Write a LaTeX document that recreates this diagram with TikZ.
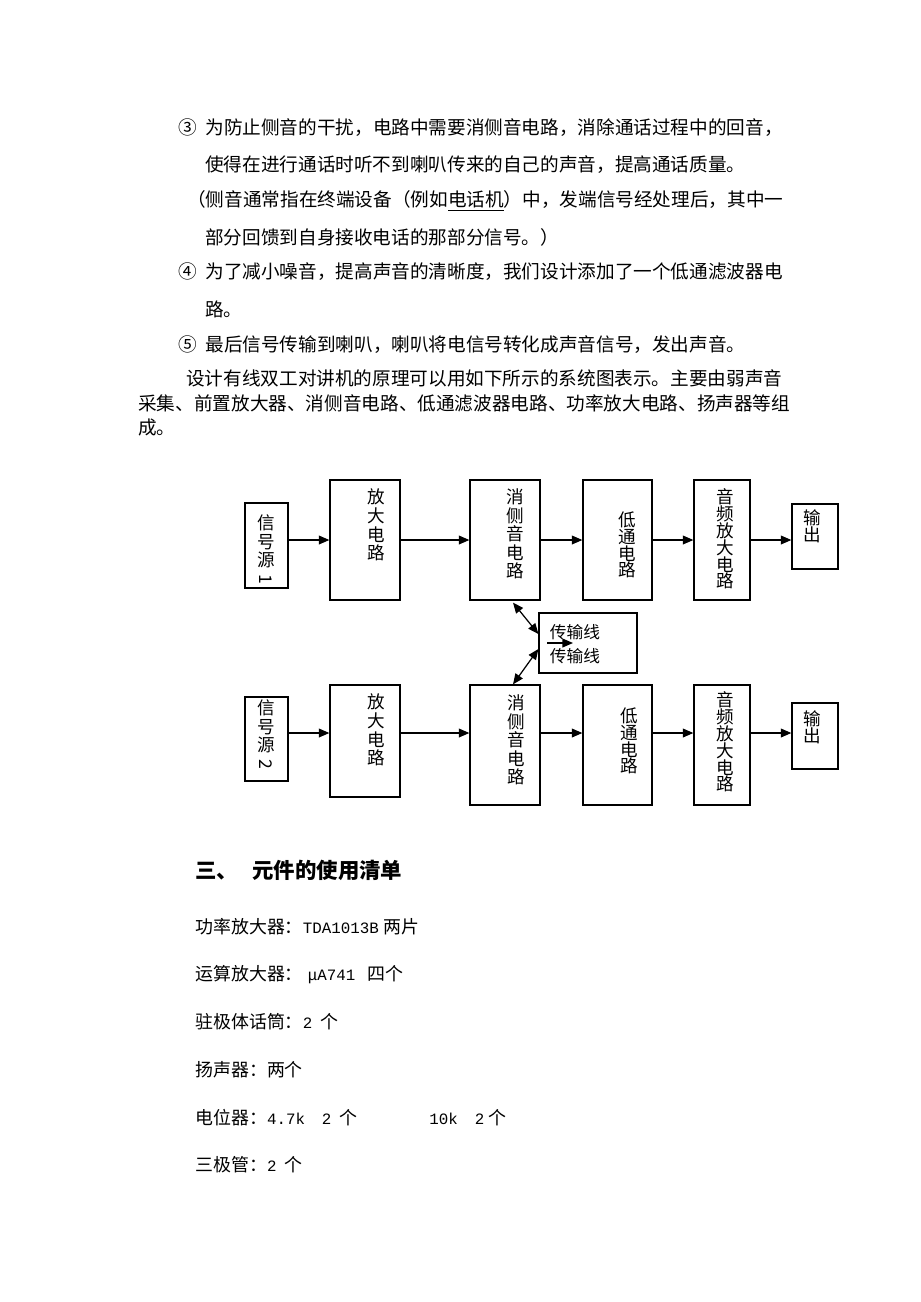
\documentclass[tikz,border=0pt]{standalone}
\usepackage{fontspec}
\usepackage{graphicx}
\setmainfont{Noto Sans CJK SC}
\newfontfamily\latfont{Liberation Mono}
\usetikzlibrary{arrows.meta,positioning,calc}
\newlength\pxl
\setlength\pxl{0.02cm}
\newcommand\latn[1]{{\latfont\fontsize{9}{10}\selectfont #1}}

\begin{document}
\begin{tikzpicture}[x=0.02cm, y=-0.02cm,
  box/.style={draw, line width=0.7pt, inner sep=0pt},
  vtext/.style={align=center, inner sep=0pt, font=\fontsize{10}{10.6}\selectfont},
  vtight/.style={align=center, inner sep=0pt, font=\fontsize{10}{9.6}\selectfont},
  para/.style={anchor=west, inner sep=0pt, font=\fontsize{10.6}{12}\selectfont},
  item/.style={anchor=west, inner sep=0pt, font=\fontsize{10.2}{12}\selectfont},
  arr/.style={-{Triangle[length=6pt,width=5pt]}, line width=0.7pt},
  dbl/.style={{Triangle[length=6pt,width=5pt]}-{Triangle[length=6pt,width=5pt]}, line width=0.7pt}]
  \fill[white] (0,0) rectangle (920,1302);

  % text above the diagram
  \node[para] (l1) at (178,128) {\makebox[15.4pt][l]{③}为防止侧音的干扰，电路中需要消侧音电路，消除通话过程中的回音，};
  \node[para] (l2) at (205,165) {使得在进行通话时听不到喇叭传来的自己的声音，提高通话质量。};
  \node[para] (l3) at (187,201) {（侧音通常指在终端设备（例如\underline{电话机}）中，发端信号经处理后，其中一};
  \node[para] (l4) at (205,237) {部分回馈到自身接收电话的那部分信号。）};
  \node[para] (l5) at (178,272) {\makebox[15.4pt][l]{④}为了减小噪音，提高声音的清晰度，我们设计添加了一个低通滤波器电};
  \node[para] (l6) at (205,309) {路。};
  \node[para] (l7) at (178,345) {\makebox[15.4pt][l]{⑤}最后信号传输到喇叭，喇叭将电信号转化成声音信号，发出声音。};
  \node[para] (l8) at (186,378) {设计有线双工对讲机的原理可以用如下所示的系统图表示。主要由弱声音};
  \node[para] (l9) at (138,403) {采集、前置放大器、消侧音电路、低通滤波器电路、功率放大电路、扬声器等组};
  \node[para] (l10) at (138,427) {成。};

  % upper channel
  \node[box, minimum width=0.86cm, minimum height=1.70cm] (src1) at (266.5,545.5) {};
  \node[box, minimum width=1.40cm, minimum height=2.40cm] (amp1) at (365,540) {};
  \node[box, minimum width=1.40cm, minimum height=2.40cm] (sto1) at (505,540) {};
  \node[box, minimum width=1.38cm, minimum height=2.40cm] (lpf1) at (617.5,540) {};
  \node[box, minimum width=1.12cm, minimum height=2.40cm] (pa1) at (722,540) {};
  \node[box, minimum width=0.92cm, minimum height=1.30cm] (out1) at (815,536.5) {};
  \node[vtext] (tsrc1) at (266,550) {信\\号\\源\\\rotatebox[origin=c]{-90}{1}};
  \node[vtext] (tamp1) at (376,525) {放\\大\\电\\路};
  \node[vtext] (tsto1) at (515,534) {消\\侧\\音\\电\\路};
  \node[vtight] (tlpf1) at (627,545) {低\\通\\电\\路};
  \node[vtight] (tpa1) at (725,539) {音\\频\\放\\大\\电\\路};
  \node[vtight] (tout1) at (812,526) {输\\出};

  % transmission line
  \node[box, minimum width=1.96cm, minimum height=1.20cm] (line) at (588,643) {};
  \node[align=left, inner sep=0pt, font=\fontsize{9.5}{13.6}\selectfont] (tline) at (575,644) {传输线\\传输线};
  \coordinate (sa) at (547,643);
  \draw[arr] (sa) -- ++(26,0);

  % lower channel
  \node[box, minimum width=0.86cm, minimum height=1.68cm] (src2) at (266.5,739) {};
  \node[box, minimum width=1.40cm, minimum height=2.24cm] (amp2) at (365,741) {};
  \node[box, minimum width=1.40cm, minimum height=2.40cm] (sto2) at (505,745) {};
  \node[box, minimum width=1.38cm, minimum height=2.40cm] (lpf2) at (617.5,745) {};
  \node[box, minimum width=1.12cm, minimum height=2.40cm] (pa2) at (722,745) {};
  \node[box, minimum width=0.92cm, minimum height=1.32cm] (out2) at (815,736) {};
  \node[vtext] (tsrc2) at (266,735) {信\\号\\源\\\rotatebox[origin=c]{-90}{2}};
  \node[vtext] (tamp2) at (376,730) {放\\大\\电\\路};
  \node[vtext] (tsto2) at (516,740) {消\\侧\\音\\电\\路};
  \node[vtight] (tlpf2) at (629,741) {低\\通\\电\\路};
  \node[vtight] (tpa2) at (725,742) {音\\频\\放\\大\\电\\路};
  \node[vtight] (tout2) at (812,727) {输\\出};

  % signal flow
  \coordinate (row1) at (0,540);
  \coordinate (row2) at (0,733);
  \draw[arr] (src1.east |- row1) -- (amp1.west |- row1);
  \draw[arr] (amp1.east |- row1) -- (sto1.west |- row1);
  \draw[arr] (sto1.east |- row1) -- (lpf1.west |- row1);
  \draw[arr] (lpf1.east |- row1) -- (pa1.west |- row1);
  \draw[arr] (pa1.east |- row1) -- (out1.west |- row1);
  \draw[arr] (src2.east |- row2) -- (amp2.west |- row2);
  \draw[arr] (amp2.east |- row2) -- (sto2.west |- row2);
  \draw[arr] (sto2.east |- row2) -- (lpf2.west |- row2);
  \draw[arr] (lpf2.east |- row2) -- (pa2.west |- row2);
  \draw[arr] (pa2.east |- row2) -- (out2.west |- row2);
  \draw[dbl] ($(sto1.south)+(8,2)$) -- ($(line.west)+(0,-9)$);
  \draw[dbl] ($(line.west)+(0,6)$) -- ($(sto2.north)+(8,0)$);

  % parts list
  \node[anchor=west, inner sep=0pt, font=\fontsize{12.2}{14}\selectfont\bfseries] (head) at (195,870) {\makebox[32.4pt][l]{三、}元件的使用清单};
  \node[item] (i1) at (195,927) {功率放大器：\latn{TDA1013B}\hspace{5\pxl}两片};
  \node[item] (i2) at (195,975) {运算放大器：\hspace{5\pxl}\latn{μA741}\hspace{12\pxl}四个};
  \node[item] (i3) at (195,1022) {驻极体话筒：\latn{2}\hspace{8\pxl}个};
  \node[item] (i4) at (195,1070) {扬声器：两个};
  \node[item] (i5) at (195,1118) {电位器：\latn{4.7k}\hspace{17\pxl}\latn{2}\hspace{8\pxl}个\hspace{72\pxl}\latn{10k}\hspace{17\pxl}\latn{2}\hspace{4\pxl}个};
  \node[item] (i6) at (195,1165) {三极管：\latn{2}\hspace{8\pxl}个};
\end{tikzpicture}
\end{document}
